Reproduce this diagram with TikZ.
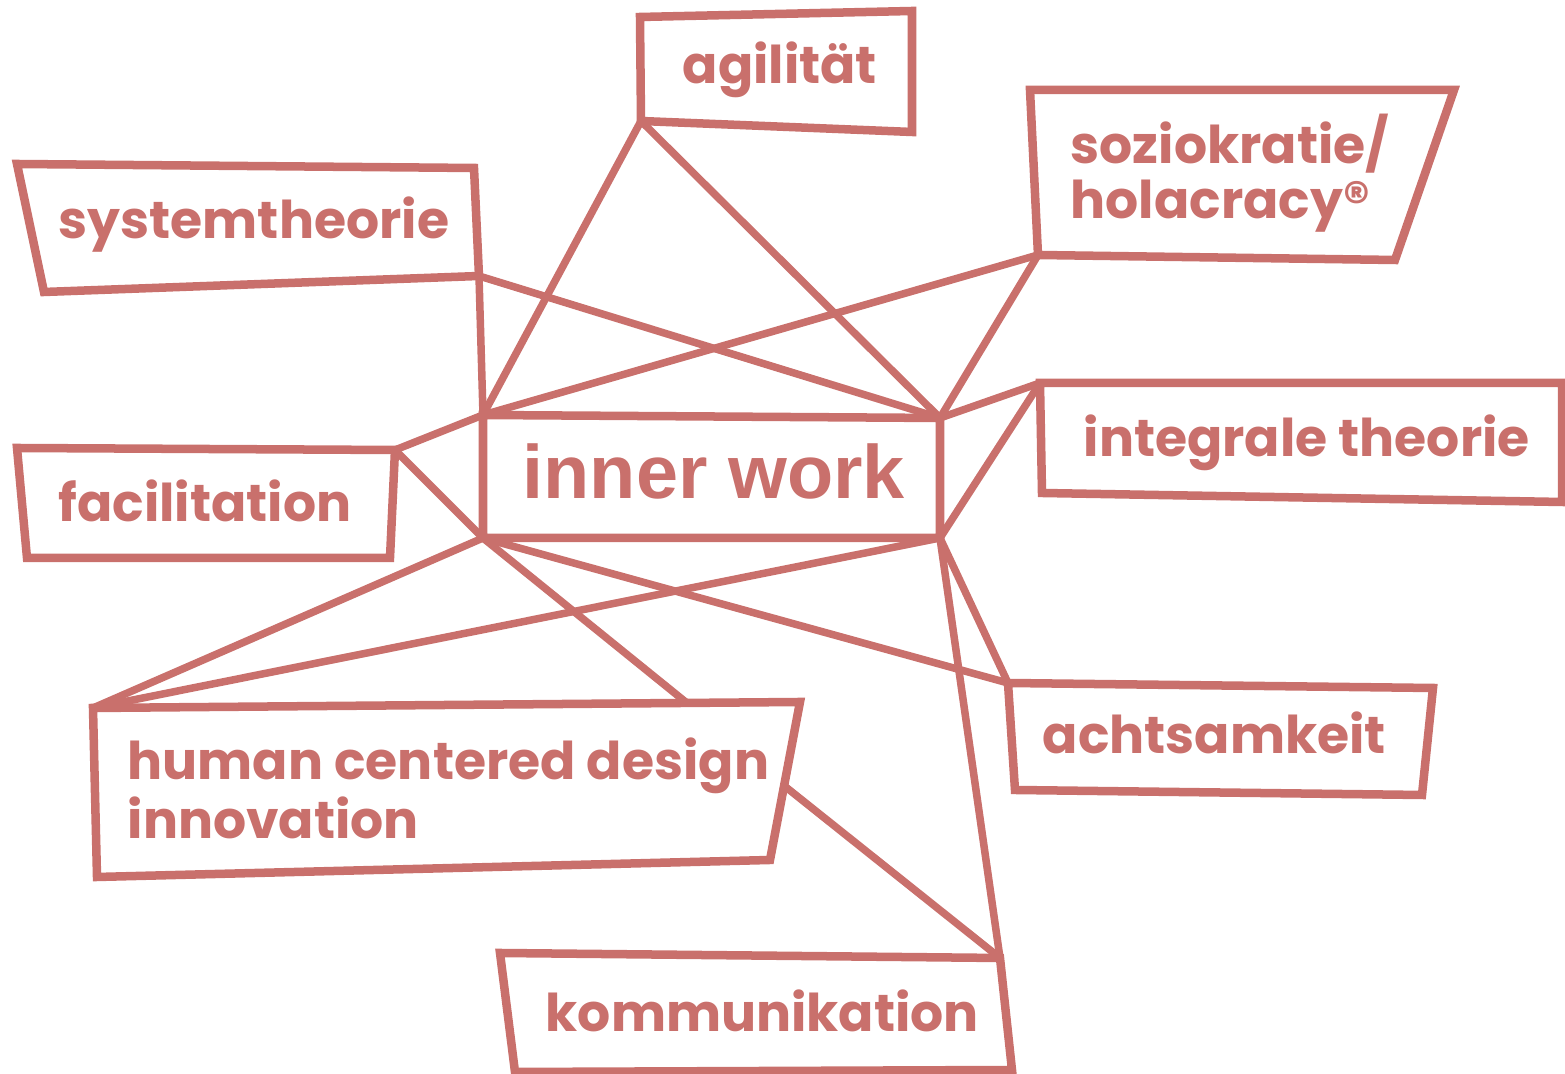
\documentclass[tikz,border=0pt]{standalone}
\usepackage{fontspec}
\setmainfont{Poppins}
\newfontfamily\innerfont{Liberation Sans}
\usetikzlibrary{calc}
\definecolor{rose}{RGB}{201,112,108}

\begin{document}
\begin{tikzpicture}[x=0.01cm,y=-0.01cm]
\tikzstyle{frame}=[draw=rose,line width=0.085cm,line join=miter]
\tikzstyle{link}=[draw=rose,line width=0.075cm]
\tikzstyle{label}=[anchor=base west,inner sep=0,text=rose,align=left,
                   font=\bfseries\fontsize{14.8}{15.8}\selectfont]
\useasboundingbox (0,0) rectangle (1565,1074);

% corners of the boxes, clockwise from top left
\coordinate (agi1) at (640,17);   \coordinate (agi2) at (912,11);
\coordinate (agi3) at (912,132);  \coordinate (agi4) at (641,121);
\coordinate (sys1) at (17,164);   \coordinate (sys2) at (474,168);
\coordinate (sys3) at (479,276);  \coordinate (sys4) at (44,292);
\coordinate (soz1) at (1030,90);  \coordinate (soz2) at (1454,90);
\coordinate (soz3) at (1395,260); \coordinate (soz4) at (1038,255);
\coordinate (int1) at (1040,383); \coordinate (int2) at (1562,383);
\coordinate (int3) at (1562,502); \coordinate (int4) at (1042,493);
\coordinate (inn1) at (483,415);  \coordinate (inn2) at (940,418);
\coordinate (inn3) at (940,538);  \coordinate (inn4) at (483,538);
\coordinate (fac1) at (17,448);   \coordinate (fac2) at (395,450);
\coordinate (fac3) at (390,558);  \coordinate (fac4) at (27,558);
\coordinate (hcd1) at (93,708);   \coordinate (hcd2) at (800,702);
\coordinate (hcd3) at (770,860);  \coordinate (hcd4) at (97,877);
\coordinate (ach1) at (1008,683); \coordinate (ach2) at (1433,688);
\coordinate (ach3) at (1422,795); \coordinate (ach4) at (1015,790);
\coordinate (kom1) at (500,953);  \coordinate (kom2) at (1000,958);
\coordinate (kom3) at (1012,1070);\coordinate (kom4) at (515,1072);
\coordinate (hcdtop) at ($(hcd1)!0.84!(hcd2)$);
\coordinate (hcdside) at ($(hcd2)!0.53!(hcd3)$);

% boxes
\foreach \b in {agi,sys,soz,int,inn,fac,hcd,ach,kom}
  \draw[frame] (\b1) -- (\b2) -- (\b3) -- (\b4) -- cycle;

% connectors
\draw[link] (agi4) -- (inn1);
\draw[link] (agi4) -- (inn2);
\draw[link] (sys3) -- (inn1);
\draw[link] (sys3) -- (inn2);
\draw[link] (soz4) -- (inn1);
\draw[link] (soz4) -- (inn2);
\draw[link] (int1) -- (inn2);
\draw[link] (int1) -- (inn3);
\draw[link] (fac2) -- (inn1);
\draw[link] (fac2) -- (inn4);
\draw[link] (hcd1) -- (inn4);
\draw[link] (hcd1) -- (inn3);
\draw[link] (hcdtop) -- (inn4);
\draw[link] (inn4) -- (ach1);
\draw[link] (inn3) -- (ach1);
\draw[link] (inn3) -- (kom2);
\draw[link] (hcdside) -- (kom2);

% texts (base of a two line label is its last line)
\node[label] (agilitaet) at (682,84) {agilität};
\node[label] (systemtheorie) at (58,239) {systemtheorie};
\node[label] (soziokratie) at (1070,219) {soziokratie/\\holacracy®};
\node[label] (integral) at (1083,457) {integrale theorie};
\node[label,font=\innerfont\bfseries\fontsize{21.5}{21.5}\selectfont] (innerwork) at (522,499) {inner work};
\node[label] (facilitation) at (58,522) {facilitation};
\node[label] (hcd) at (127,839) {human centered design\\innovation};
\node[label] (achtsamkeit) at (1042,754) {achtsamkeit};
\node[label] (kommunikation) at (545,1032) {kommunikation};
\end{tikzpicture}
\end{document}
